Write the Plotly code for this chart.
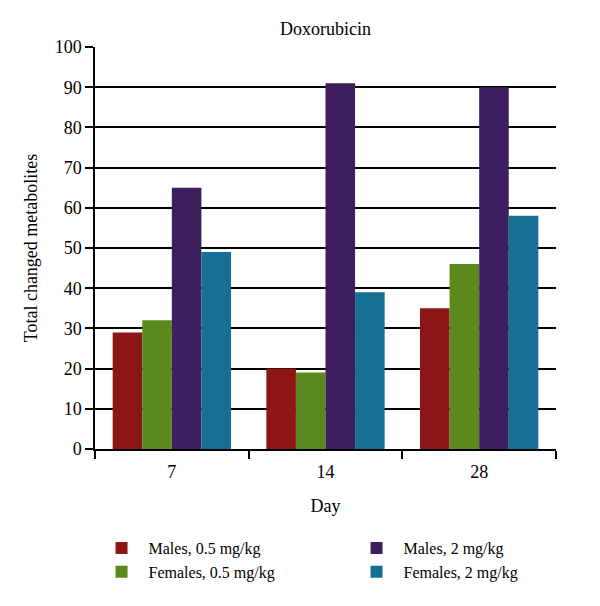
import plotly.graph_objects as go

days = ["7", "14", "28"]
males_05 = [29, 20, 35]
females_05 = [32, 19, 46]
males_2 = [65, 91, 90]
females_2 = [49, 39, 58]

series = [
    ("Males, 0.5 mg/kg", males_05, "#8C1616", 1),
    ("Females, 0.5 mg/kg", females_05, "#5A8A1E", 3),
    ("Males, 2 mg/kg", males_2, "#3D1F5F", 2),
    ("Females, 2 mg/kg", females_2, "#167093", 4),
]

font = "Liberation Serif"
fig = go.Figure()
for name, vals, color, rank in series:
    fig.add_trace(go.Bar(x=days, y=vals, name=name, marker_color=color,
                         marker_line_width=0, legendrank=rank))

fig.update_layout(
    width=600, height=606,
    margin=dict(l=87, r=52, t=39, b=165),
    paper_bgcolor="white", plot_bgcolor="white",
    font=dict(family=font, size=17, color="black"),
    barmode="group", bargap=0.23, bargroupgap=0,
    title=dict(text="Doxorubicin", x=0.5, xref="paper", y=1, yref="paper",
               yanchor="bottom", pad=dict(b=12), font=dict(size=18)),
    xaxis=dict(title=dict(text="Day", standoff=18, font=dict(size=18)),
               type="category", tickfont=dict(size=18), ticklabelstandoff=6,
               showline=True, linecolor="black", linewidth=1.5,
               ticks="outside", tickson="boundaries", ticklen=8,
               tickcolor="black", tickwidth=1.5, showgrid=False),
    yaxis=dict(title=dict(text="Total changed metabolites", standoff=12,
                          font=dict(size=18)),
               tickfont=dict(size=18),
               range=[0, 100], dtick=10, showline=True, linecolor="black",
               linewidth=1.5, ticks="outside", ticklen=8, tickcolor="black",
               tickwidth=1.5, showgrid=True, gridcolor="black", gridwidth=1.5,
               zeroline=False),
    legend=dict(orientation="h", x=-0.001, xref="paper", xanchor="left",
                y=-0.204, yref="paper", yanchor="top",
                entrywidth=196, entrywidthmode="pixels",
                traceorder="normal", font=dict(size=16),
                itemwidth=44, tracegroupgap=0, bgcolor="rgba(0,0,0,0)"),
)
fig.write_html("out.html")
